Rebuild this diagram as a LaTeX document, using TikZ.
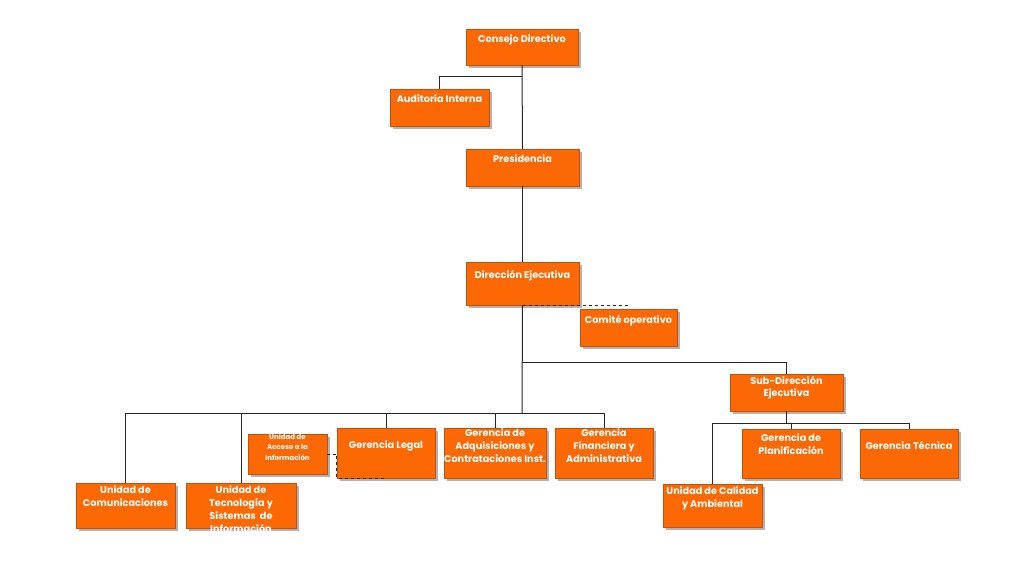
\documentclass[tikz,border=0pt]{standalone}
\usepackage{fontspec}
\setmainfont{Poppins}
\usepackage{tikz}
\usetikzlibrary{fit,positioning,shadows}
\definecolor{orgfill}{RGB}{252,104,4}
\definecolor{orgline}{RGB}{196,80,10}

\begin{document}
\begin{tikzpicture}[x=1pt,y=-1pt]
\tikzstyle{unit}=[rectangle, draw=orgline, fill=orgfill, thin, inner sep=0pt, drop shadow={shadow xshift=2.5pt, shadow yshift=-2.5pt, fill=black!30, opacity=1}]
\tikzstyle{utxt}=[anchor=north, align=center, text=white, font=\fontsize{9.7}{12.8}\selectfont\bfseries, inner sep=0pt, yshift=-6pt]
\tikzstyle{stxt}=[anchor=north, align=center, text=white, font=\fontsize{7}{10.3}\selectfont\bfseries, inner sep=0pt, yshift=0pt]
\tikzstyle{connect}=[black!85, line width=1pt]

\useasboundingbox (0,0) rectangle (1024,576);

% top of the chart
\node[unit, minimum width=112pt, minimum height=36pt] (cd) at (522,47) [label={[utxt]north:Consejo Directivo}]{};
\node[unit, minimum width=99pt, minimum height=37pt] (ai) at (439.5,107.5) [label={[utxt]north:Auditoria Interna}]{};
\node[unit, minimum width=113pt, minimum height=37pt] (pres) at (522.5,167.5) [label={[utxt]north:Presidencia}]{};
\node[unit, minimum width=113pt, minimum height=43pt] (dir) at (522.5,283.5) [label={[utxt, yshift=-2pt]north:Dirección Ejecutiva}]{};
\node[unit, minimum width=97pt, minimum height=37pt] (com) at (628.5,327.5) [label={[utxt]north:Comité operativo}]{};
\node[unit, minimum width=113pt, minimum height=37pt] (sub) at (786.5,392.5) [label={[utxt, yshift=4pt]north:Sub-Dirección\\Ejecutiva}]{};

% gerencias
\node[unit, minimum width=79pt, minimum height=40pt] (acc) at (287.5,454) [label={[stxt]north:Unidad de\\Acceso a la\\Información}]{};
\node[unit, minimum width=98pt, minimum height=50pt] (leg) at (386,453) [label={[utxt, yshift=-7pt]north:Gerencia Legal}]{};
\node[unit, minimum width=102pt, minimum height=50pt] (adq) at (495,453) [label={[utxt, yshift=5pt]north:Gerencia de\\Adquisiciones y\\Contrataciones Inst.}]{};
\node[unit, minimum width=98pt, minimum height=50pt] (fin) at (604,453) [label={[utxt, yshift=5pt]north:Gerencia\\Financiera y\\Administrativa}]{};
\node[unit, minimum width=98pt, minimum height=49pt] (pla) at (791,453.5) [label={[utxt, yshift=1pt]north:Gerencia de\\Planificación}]{};
\node[unit, minimum width=98pt, minimum height=49pt] (tecn) at (909,453.5) [label={[utxt, yshift=-6pt]north:Gerencia Técnica}]{};

% unidades
\node[unit, minimum width=99pt, minimum height=45pt] (comu) at (125.5,505.5) [label={[utxt, yshift=3pt]north:Unidad de\\Comunicaciones}]{};
\node[unit, minimum width=110pt, minimum height=45pt] (tec) at (241,505.5) [label={[utxt, yshift=3pt]north:Unidad de\\Tecnología y\\Sistemas~ de\\Información}]{};
\node[unit, minimum width=99pt, minimum height=43pt] (cal) at (712.5,505.5) [label={[utxt, yshift=3pt]north:Unidad de Calidad\\y Ambiental}]{};

\coordinate (j1) at (522,76);
\coordinate (j2) at (522,362);
\coordinate (bus) at (522,413);
\coordinate (sbus) at (786.5,423);

\path[connect]
	(cd.south) edge (pres.north)
	(pres.south) edge (dir.north)
	(dir.south) edge (bus);
\draw[connect] (j1) -| (ai.north);
\draw[connect] (j2) -| (sub.north);
\draw[connect, dashed] (dir.south) -- (dir.south -| com.north);

\draw[connect] (comu.north) |- (fin.north |- bus) -- (fin.north);
\foreach \n in {tec,leg,adq}
	\draw[connect] (bus -| \n.north) -- (\n.north);
\draw[connect, dashed] (acc.east) -| (leg.south west) -- (leg.south);

\draw[connect] (sub.south) -- (sbus);
\draw[connect] (cal.north) |- (tecn.north |- sbus) -- (tecn.north);
\draw[connect] (sbus -| pla.north) -- (pla.north);
\end{tikzpicture}
\end{document}
